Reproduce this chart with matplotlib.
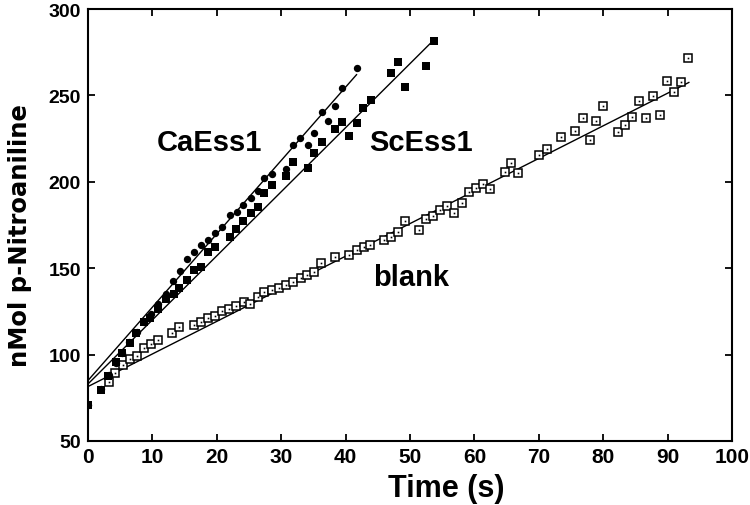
import matplotlib
matplotlib.use("Agg")
import matplotlib.pyplot as plt

# ---- data ----
ca_x = [0, 2.1, 3.2, 4.3, 5.3, 6.4, 7.6, 8.7, 9.75, 10.9, 12.1, 13.2, 14.3, 15.3, 16.5, 17.6,
        18.6, 19.8, 20.8, 22.0, 23.1, 24.1, 25.3, 26.4, 27.4, 28.5, 30.8, 31.8, 32.9, 34.1,
        35.1, 36.3, 37.3, 38.4, 39.5, 41.7]
ca_y = [71, 80, 88, 95, 101, 107.5, 112.9, 119, 123.5, 129.3, 135, 142.4, 148.6, 155.3, 159.2, 163.4,
        166.3, 170.4, 174, 180.8, 182.7, 186.5, 190.6, 194.8, 202.1, 204.5, 207.4, 221.3, 225.2, 221.3,
        228.2, 240.2, 235.2, 244, 254.1, 265.9]

sc_x = [0, 2.06, 3.15, 4.28, 5.3, 6.45, 7.53, 8.77, 9.7, 10.9, 12.1, 13.3, 14.2, 15.4, 16.5, 17.6,
        18.7, 19.8, 22.0, 23.0, 24.1, 25.3, 26.4, 27.4, 28.5, 30.8, 31.8, 34.1, 35.1, 36.3, 38.4,
        39.5, 40.6, 41.7, 42.7, 43.9, 47.1, 48.1, 49.3, 52.5, 53.7]
sc_y = [71, 79.7, 87.8, 95.5, 100.9, 106.7, 112.3, 119, 121, 126.4, 132.2, 135, 138.4, 143.3, 149.1, 150.9,
        159.2, 162.1, 168.2, 172.7, 177.5, 181.7, 185.5, 193.3, 198.3, 203.2, 211.3, 208, 216.5, 223.2, 230.6,
        234.8, 226.3, 233.9, 242.5, 247.3, 262.8, 269.5, 255, 267.2, 281.7]

blank_x = [3.2, 4.2, 5.4, 6.45, 7.6, 8.7, 9.75, 10.8, 13.0, 14.2, 16.4, 17.5, 18.6, 19.8, 20.8, 21.9,
           23.05, 24.15, 25.2, 26.4, 27.4, 28.5, 29.7, 30.7, 31.8, 33.0, 34.0, 35.1, 36.2, 38.3, 40.5,
           41.7, 42.8, 43.85, 46.0, 47.1, 48.1, 49.3, 51.4, 52.5, 53.6, 54.7, 55.8, 56.9, 58.0, 59.1,
           60.2, 61.3, 62.4, 64.7, 65.7, 66.8, 70.1, 71.3, 73.4, 75.6, 76.8, 77.9, 78.9, 80.0, 82.3,
           83.4, 84.5, 85.6, 86.7, 87.7, 88.8, 89.9, 91.0, 92.1, 93.2]
blank_y = [84, 89.2, 94, 97.5, 99, 103.6, 106.1, 108.6, 112.5, 115.9, 117.4, 118.8, 121, 122.3, 125.3, 126.4,
           128, 130.4, 129.3, 133.6, 136.4, 137.6, 138.7, 140.3, 142.2, 144.2, 146.1, 147.7, 153, 156.7, 157.6,
           160.8, 162, 163.6, 166.5, 167.9, 170.8, 177.3, 172.1, 178.5, 180, 183.9, 185.8, 181.8, 187.7, 193.9,
           196.2, 198.6, 195.8, 205.5, 210.7, 205, 215.7, 219, 225.7, 229.2, 236.7, 224.4, 235, 243.6, 229,
           233, 237.7, 246.6, 236.7, 249.4, 238.8, 258.3, 251.7, 257.9, 271.4]

# fitted regression lines (end points)
ca_fit_x = [0, 41.7]
ca_fit_y = [85, 262]
sc_fit_x = [0, 53.4]
sc_fit_y = [83, 281]
blank_fit_x = [0, 93.3]
blank_fit_y = [81.5, 257.5]

x_ticks = [0, 10, 20, 30, 40, 50, 60, 70, 80, 90, 100]
y_ticks = [50, 100, 150, 200, 250, 300]

labels = {"CaEss1": (18.8, 218.5), "ScEss1": (51.7, 218.5), "blank": (50.2, 140.5)}

# ---- figure ----
fig = plt.figure(figsize=(7.5, 5.06), dpi=100)
ax = fig.add_axes([0.1173, 0.1265, 0.976 - 0.1173, 0.9802 - 0.1265])

for fx, fy in [(ca_fit_x, ca_fit_y), (sc_fit_x, sc_fit_y), (blank_fit_x, blank_fit_y)]:
    ax.plot(fx, fy, color="black", lw=1.0, zorder=2)

ax.plot(blank_x, blank_y, ls="none", marker="s", ms=6.2, mfc="white", mec="black", mew=1.1, zorder=3)
ax.plot(blank_x, blank_y, ls="none", marker="s", ms=1.2, mfc="black", mec="black", mew=0, zorder=4)
ax.plot(sc_x, sc_y, ls="none", marker="s", ms=5.8, mfc="black", mec="black", mew=0, zorder=5)
ax.plot(ca_x, ca_y, ls="none", marker="o", ms=5.3, mfc="black", mec="black", mew=0, zorder=5)

ax.set_xlim(0, 100)
ax.set_ylim(50, 300)
ax.set_xticks(x_ticks)
ax.set_yticks(y_ticks)

tickfont = ["Liberation Sans", "DejaVu Sans"]
ax.set_xticklabels([str(t) for t in x_ticks], family=tickfont, fontsize=15, fontweight="bold")
ax.set_yticklabels([str(t) for t in y_ticks], family=tickfont, fontsize=14, fontweight="bold")

ax.tick_params(direction="in", length=5, width=1.3, top=True, right=True)
ax.tick_params(axis="y", pad=5)
ax.tick_params(axis="x", pad=4)
for s in ax.spines.values():
    s.set_linewidth(1.5)

ax.set_xlabel("Time (s)", family=tickfont, fontsize=22, fontweight="bold", va="center")
ax.xaxis.set_label_coords(0.557, -0.108)
ax.set_ylabel("nMol p-Nitroaniline", family=["DejaVu Sans"], fontsize=17.5, fontweight="bold", va="center")
ax.yaxis.set_label_coords(-0.1056, 0.478)

for txt, (tx, ty) in labels.items():
    ax.text(tx, ty, txt, ha="center", va="baseline", family=tickfont, fontsize=21, fontweight="bold")

fig.savefig("out.png", dpi=100)
